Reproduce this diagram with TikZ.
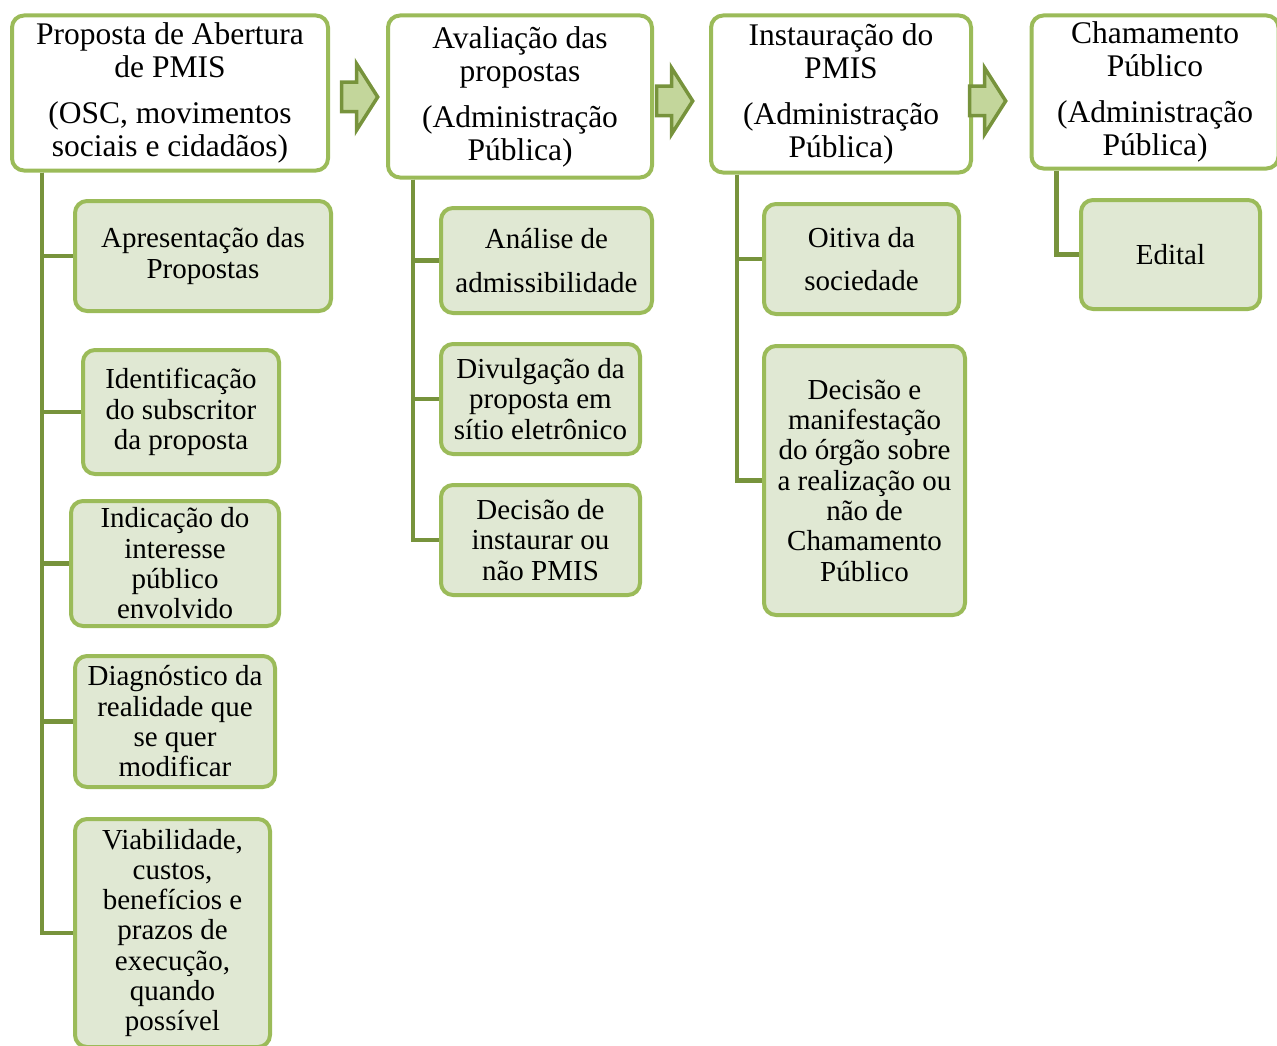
\documentclass[tikz,border=0pt]{standalone}
\usepackage{fontspec}
\setmainfont{Liberation Serif}
\usetikzlibrary{shapes.arrows}
\definecolor{pmisgreen}{HTML}{9BBB59}
\definecolor{pmisdark}{HTML}{77933C}
\definecolor{pmisfill}{HTML}{E0E8D3}
\definecolor{pmisarrow}{HTML}{C3D69B}
\begin{document}
\begin{tikzpicture}[x=1pt, y=-1pt,
  parentbox/.style={draw=pmisgreen, line width=4pt, fill=white, rounded corners=12pt, align=center, inner sep=0pt, font=\fontsize{31.5}{33}\selectfont},
  childbox/.style={draw=pmisgreen, line width=4pt, fill=pmisfill, rounded corners=12pt, align=center, inner sep=0pt, font=\fontsize{29}{30.3}\selectfont},
  conn/.style={draw=pmisdark, line width=4.5pt},
  stagearrow/.style={single arrow, draw=pmisdark, fill=pmisarrow, line width=3.5pt, inner xsep=0pt, inner ysep=13pt, single arrow tip angle=115, single arrow head extend=18.5pt, minimum height=36pt}]
\useasboundingbox (0,0) rectangle (1277,1046);
% stages
\node[parentbox, minimum width=316pt, minimum height=155pt] (p1) at (170,93) {Proposta de Abertura\\de PMIS\\[13pt](OSC, movimentos\\sociais e cidadãos)};
\node[parentbox, minimum width=264pt, minimum height=162pt] (p2) at (520,96.5) {Avaliação das\\propostas\\[13pt](Administração\\Pública)};
\node[parentbox, minimum width=260pt, minimum height=157pt] (p3) at (841,94) {Instauração do\\PMIS\\[13pt](Administração\\Pública)};
\node[parentbox, minimum width=247pt, minimum height=153pt] (p4) at (1155,92) {Chamamento\\Público\\[13pt](Administração\\Pública)};
\node[stagearrow] (ar1) at (355,97) {};
\node[stagearrow] (ar2) at (670,101) {};
\node[stagearrow] (ar3) at (983,101) {};
% stage 1
\node[childbox, minimum width=256pt, minimum height=110pt] (a1) at (203,256) {Apresentação das\\Propostas};
\node[childbox, minimum width=196pt, minimum height=124pt] (a2) at (181,412) {Identificação\\do subscritor\\da proposta};
\node[childbox, minimum width=208pt, minimum height=125pt] (a3) at (175,563.5) {Indicação do\\interesse\\público\\envolvido};
\node[childbox, minimum width=200pt, minimum height=131pt] (a4) at (175,721.5) {Diagnóstico da\\realidade que\\se quer\\modificar};
\node[childbox, minimum width=195pt, minimum height=228pt] (a5) at (172.5,933) {Viabilidade,\\custos,\\benefícios e\\prazos de\\execução,\\quando\\possível};
% stage 2
\node[childbox, minimum width=211pt, minimum height=105pt] (b1) at (546.5,260.5) {Análise de\\[13.5pt]admissibilidade};
\node[childbox, minimum width=199pt, minimum height=110pt] (b2) at (540.5,399) {Divulgação da\\proposta em\\sítio eletrônico};
\node[childbox, minimum width=199pt, minimum height=110pt] (b3) at (540.5,540) {Decisão de\\instaurar ou\\não PMIS};
% stage 3
\node[childbox, minimum width=195pt, minimum height=110pt] (c1) at (861.5,259) {Oitiva da\\[12.5pt]sociedade};
\node[childbox, minimum width=201pt, minimum height=269pt] (c2) at (864.5,480.5) {Decisão e\\manifestação\\do órgão sobre\\a realização ou\\não de\\Chamamento\\Público};
% stage 4
\node[childbox, minimum width=179pt, minimum height=109pt] (d1) at (1170.5,254.5) {Edital};
% connectors
\coordinate (s1) at ([xshift=32pt]p1.south west);
\coordinate (s2) at ([xshift=27pt]p2.south west);
\coordinate (s3) at ([xshift=28pt]p3.south west);
\coordinate (s4) at ([xshift=27pt]p4.south west);
\draw[conn] (s1) |- (a1.west);
\draw[conn] (s1) |- (a2.west);
\draw[conn] (s1) |- (a3.west);
\draw[conn] (s1) |- (a4.west);
\draw[conn] (s1) |- (a5.west);
\draw[conn] (s2) |- (b1.west);
\draw[conn] (s2) |- (b2.west);
\draw[conn] (s2) |- (b3.west);
\draw[conn] (s3) |- (c1.west);
\draw[conn] (s3) |- (c2.west);
\draw[conn] (s4) |- (d1.west);
\end{tikzpicture}
\end{document}
